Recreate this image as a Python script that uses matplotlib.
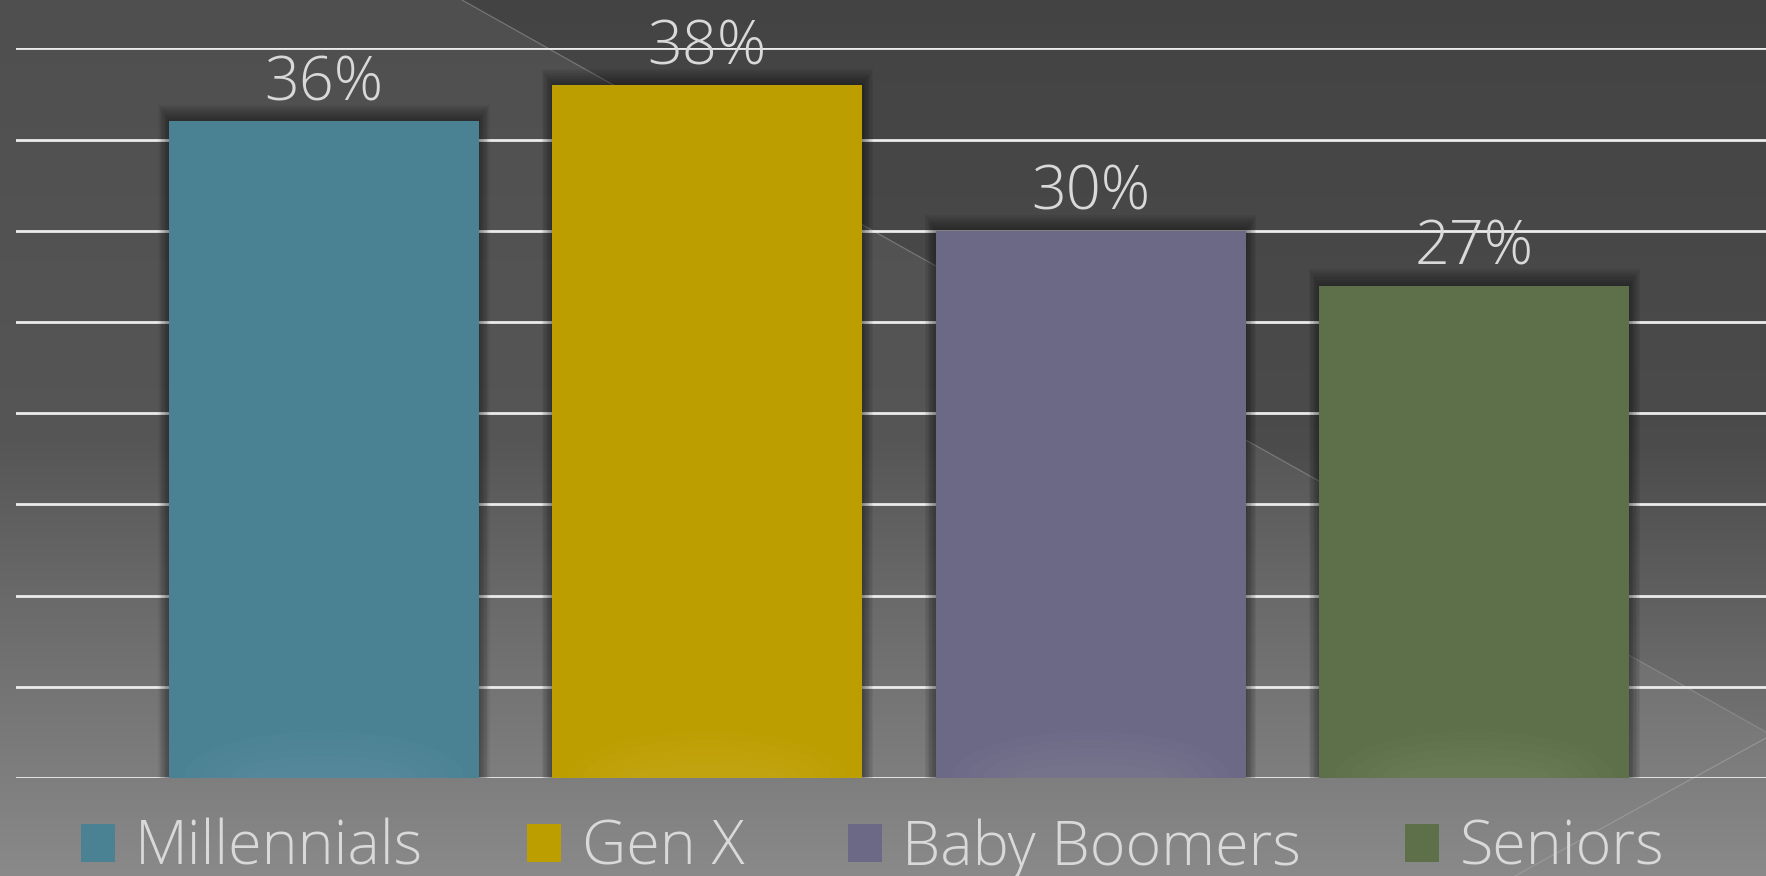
import numpy as np
import matplotlib
matplotlib.use('Agg')
import matplotlib.pyplot as plt
from matplotlib.patches import Rectangle, Patch, Ellipse

# chart data
groups = ['Millennials', 'Gen X', 'Baby Boomers', 'Seniors']
shares = [36, 38, 30, 27]
labels = ['36%', '38%', '30%', '27%']
colors = ['#4a8294', '#bd9e00', '#6b6986', '#5e7049']

plt.rcParams['font.family'] = ['Open Sans', 'DejaVu Sans']
plt.rcParams['font.weight'] = 'light'
text_col = '#d9d9d9'

W, H = 1766, 876
fig = plt.figure(figsize=(W / 100, H / 100), dpi=100)

# background gradient with a lighter diagonal panel
bg = fig.add_axes([0, 0, 1, 1], zorder=-10)
yy, xx = np.mgrid[0:H, 0:W]
base = np.interp(yy, [0, 440, 590, 876], [0.265, 0.295, 0.37, 0.53])
# line from (462, 0) to (1766, 732): below-left side is lighter
side = (yy * (1766 - 462) - (xx - 462) * 732) > 0
fade = np.interp(yy, [0, 600, 876], [0.045, 0.04, 0.01])
img = base + side * fade
bg.imshow(np.dstack([img, img, img]), extent=(0, W, H, 0), aspect='auto')
bg.plot([462, 1766], [0, 732], color='#9a9a9a', lw=0.8, alpha=0.6)
bg.plot([1766, 1515], [738, 876], color='#a8a8a8', lw=0.8, alpha=0.6)
bg.set_xlim(0, W)
bg.set_ylim(H, 0)
bg.axis('off')

ax = fig.add_axes([16 / W, 1 - 778 / H, 1 - 16 / W, (778 - 48.4) / H])
ax.set_facecolor('none')
x = np.arange(len(groups))
width = 0.808

# soft dark shadow around the bars
for i, v in enumerate(shares):
    for k in range(1, 9):
        dx = 0.0035 * k
        dy = 0.11 * k
        ax.add_patch(Rectangle((x[i] - width / 2 - dx, 0), width + 2 * dx, v + dy,
                               facecolor='black', edgecolor='none', alpha=0.06, zorder=2))

bars = ax.bar(x, shares, width=width, color=colors, zorder=3)

# faint glow at the foot of each bar
for i, b in enumerate(bars):
    for k in range(1, 6):
        e = Ellipse((x[i], 0), width * (1.0 - 0.1 * k), 6 - 0.9 * k,
                    facecolor='white', edgecolor='none', alpha=0.015, zorder=4)
        ax.add_patch(e)
        e.set_clip_path(b)

for i, v in enumerate(shares):
    ax.annotate(labels[i], (x[i], v), xytext=(0, 15), textcoords='offset points',
                ha='center', va='baseline', fontsize=44, color=text_col, zorder=5)

ax.set_xlim(-0.803, 3.761)
ax.set_ylim(0, 40)
ax.set_yticks(np.arange(0, 41, 5))
ax.yaxis.grid(True, color='#ececec', lw=2)
ax.set_axisbelow(True)
ax.tick_params(left=False, bottom=False, labelleft=False, labelbottom=False)
for s in ax.spines.values():
    s.set_visible(False)

handles = [Patch(facecolor=c, edgecolor='none') for c in colors]
leg = fig.legend(handles, groups, loc='center', bbox_to_anchor=(0.494, 0.031), ncol=4,
                 frameon=False, fontsize=44, labelcolor=text_col,
                 handlelength=0.56, handleheight=0.56, handletextpad=0.33,
                 columnspacing=1.7, borderaxespad=0)

fig.savefig('out.png', dpi=100)
